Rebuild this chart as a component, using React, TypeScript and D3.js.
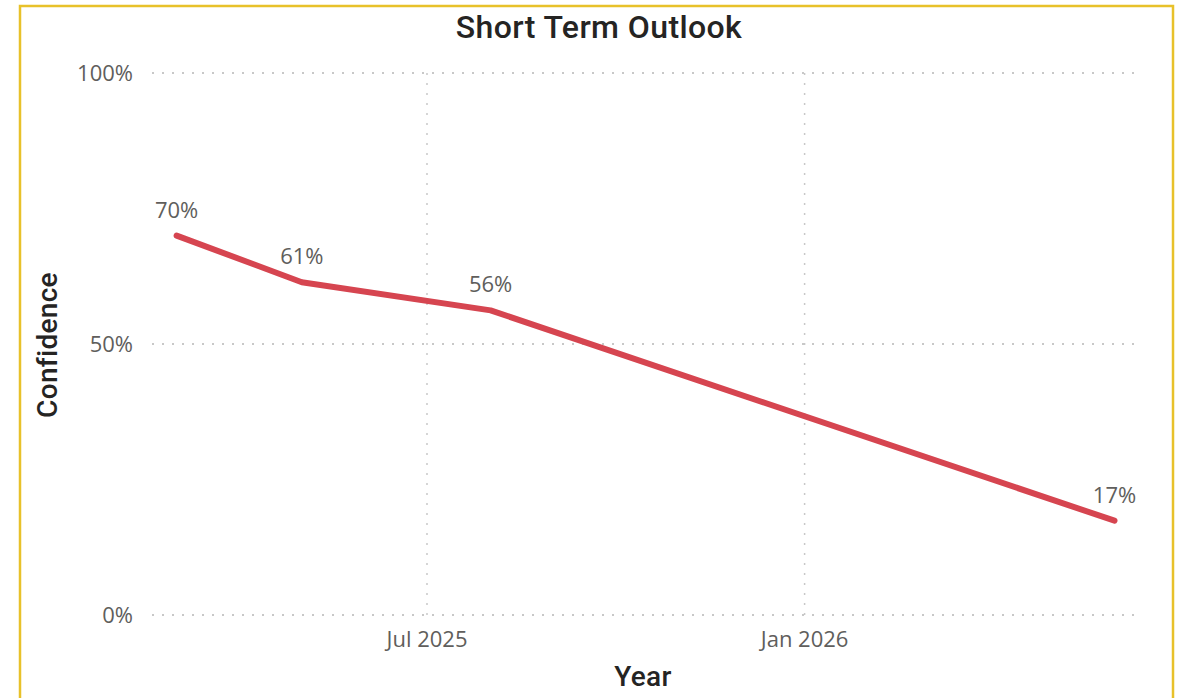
import { useEffect } from 'react';
import * as d3 from 'd3';

const dates = ['2025-03-01', '2025-05-01', '2025-08-01', '2026-06-01'];
const confidence = [0.70, 0.614, 0.562, 0.174];
const yTicks = [0, 0.5, 1];
const xTicks = ['2025-07-01', '2026-01-01'];
const xDomain = ['2025-02-17', '2026-06-11'];

const W = 1180;
const H = 698;
const margin = { top: 73, right: 45, bottom: 83, left: 152 };

const RED = '#D64550';
const GRID = '#C8C8C8';
const LABEL = '#605E5C';
const TITLE = '#252423';

const parse = d3.utcParse('%Y-%m-%d');
const fmtPct = d3.format('.0%');
const fmtMonth = d3.utcFormat('%b %Y');

export default function App() {
  useEffect(() => {
    document.body.style.margin = '0';
  }, []);

  const innerW = W - margin.left - margin.right;
  const innerH = H - margin.top - margin.bottom;

  const x = d3.scaleUtc()
    .domain(xDomain.map(d => parse(d)!))
    .range([0, innerW]);
  const y = d3.scaleLinear().domain([0, 1]).range([innerH, 0]);

  const points = dates.map((d, i) => ({ date: parse(d)!, value: confidence[i] }));
  const line = d3.line<{ date: Date; value: number }>()
    .x(d => x(d.date))
    .y(d => y(d.value));

  const tickFont = '"Open Sans", "Noto Sans", sans-serif';
  const titleFont = 'Roboto, "DejaVu Sans", sans-serif';

  return (
    <svg width={W} height={H} style={{ display: 'block', background: '#fff' }}>
      {/* yellow frame */}
      <rect x={20} y={6} width={1153} height={720} fill="none" stroke="#E8C12A" strokeWidth={2.5} />

      <text x={599} y={38} textAnchor="middle" fontFamily={titleFont} fontWeight={500}
        fontSize={32} letterSpacing={0.4} fill={TITLE}>Short Term Outlook</text>

      <g transform={`translate(${margin.left},${margin.top})`}>
        {yTicks.map(t => (
          <g key={t}>
            <line x1={0} x2={innerW} y1={y(t)} y2={y(t)} stroke={GRID}
              strokeWidth={2} strokeDasharray="2,8" />
            <text x={-19} y={y(t)} dy={8} textAnchor="end" fontFamily={tickFont}
              fontSize={22} fill={LABEL}>{fmtPct(t)}</text>
          </g>
        ))}
        {xTicks.map(t => {
          const d = parse(t)!;
          return (
            <g key={t}>
              <line x1={x(d)} x2={x(d)} y1={0} y2={innerH} stroke={GRID}
                strokeWidth={1.5} strokeDasharray="2,8" />
              <text x={x(d)} y={innerH + 32} textAnchor="middle" fontFamily={tickFont}
                fontSize={22} fill={LABEL}>{fmtMonth(d)}</text>
            </g>
          );
        })}

        <path d={line(points) || ''} fill="none" stroke={RED} strokeWidth={6}
          strokeLinecap="round" strokeLinejoin="round" />

        {points.map(p => (
          <text key={p.date.toISOString()} x={x(p.date)} y={y(p.value) - 18}
            textAnchor="middle" fontFamily={tickFont} fontSize={22} fill={LABEL}>
            {fmtPct(p.value)}
          </text>
        ))}
      </g>

      <text x={643} y={686} textAnchor="middle" fontFamily={titleFont} fontWeight={500}
        fontSize={28} letterSpacing={0.3} fill={TITLE}>Year</text>
      <text transform={`translate(57,345) rotate(-90)`} textAnchor="middle"
        fontFamily={titleFont} fontWeight={500} fontSize={28} letterSpacing={0.3}
        fill={TITLE}>Confidence</text>
    </svg>
  );
}
